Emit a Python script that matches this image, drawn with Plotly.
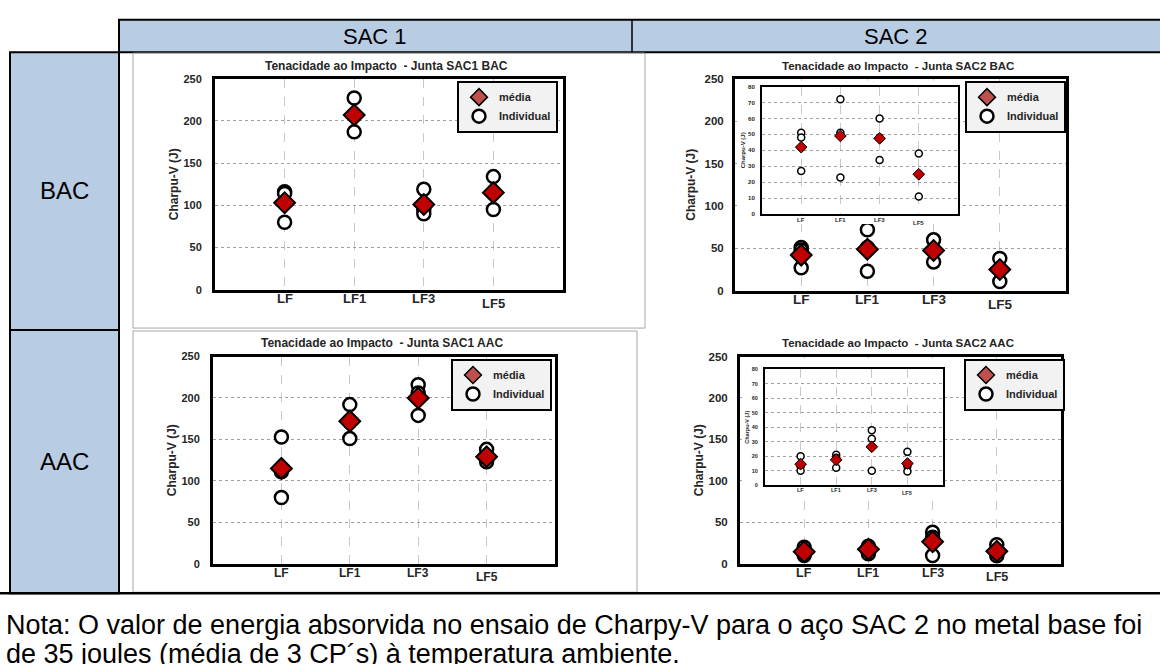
import plotly.graph_objects as go

W, H = 1160, 664
FONTE = "Liberation Sans, Arial, sans-serif"

categorias = ["LF", "LF1", "LF3", "LF5"]

# valores individuais (3 CPs por posicao) e media - Charpy-V (J)
sac1_bac_individual = [[116, 114, 80], [227, 207, 187], [119, 95, 90], [134, 115, 95]]
sac1_bac_media = [103, 207, 101, 115]

sac2_bac_individual = [[51, 48, 27], [72, 51, 23], [60, 48, 34], [38, 25, 11]]
sac2_bac_media = [42, 49, 47.5, 25]

sac1_aac_individual = [[153, 111, 80], [192, 171, 151], [216, 206, 179], [138, 126, 123]]
sac1_aac_media = [115, 172, 200, 129]

sac2_aac_individual = [[20, 13, 10], [21, 19, 12], [38, 32, 10], [23, 13, 9.5]]
sac2_aac_media = [14.5, 17.5, 26.5, 15]

colunas = ["SAC 1", "SAC 2"]
linhas = ["BAC", "AAC"]
titulos = ["Tenacidade ao Impacto  - Junta SAC1 BAC", "Tenacidade ao Impacto  - Junta SAC2 BAC",
           "Tenacidade ao Impacto  - Junta SAC1 AAC", "Tenacidade ao Impacto  - Junta SAC2 AAC"]
nota = ["Nota: O valor de energia absorvida no ensaio de Charpy-V para o aço SAC 2 no metal base foi",
        "de 35 joules (média de 3 CP´s) à temperatura ambiente."]


def px(x):
    return x / W


def py(y):
    return 1 - y / H


def add_series(fig, ind, med, n, small=False):
    s = "" if n == 1 else str(n)
    xs = [i + 1 for i, vals in enumerate(ind) for v in vals]
    ys = [v for vals in ind for v in vals]
    fig.add_trace(go.Scatter(x=xs, y=ys, mode="markers", xaxis="x" + s, yaxis="y" + s,
                             showlegend=False, hoverinfo="y",
                             marker=dict(symbol="circle", size=7 if small else 13, color="white",
                                         line=dict(color="black", width=1.5 if small else 2.5))))
    fig.add_trace(go.Scatter(x=list(range(1, len(med) + 1)), y=med, mode="markers",
                             xaxis="x" + s, yaxis="y" + s, showlegend=False, hoverinfo="y",
                             marker=dict(symbol="diamond", size=9 if small else 16, color="#C00000",
                                         line=dict(color="black", width=1 if small else 2))))


def add_legend(fig, n, leg):
    s = "" if n == 1 else str(n)
    # entradas so de legenda (cor mais clara como no original)
    fig.add_trace(go.Scatter(x=[None], y=[None], mode="markers", name="média", legend=leg,
                             xaxis="x" + s, yaxis="y" + s,
                             marker=dict(symbol="diamond", size=13, color="#C0504D",
                                         line=dict(color="black", width=1.5))))
    fig.add_trace(go.Scatter(x=[None], y=[None], mode="markers", name="Individual", legend=leg,
                             xaxis="x" + s, yaxis="y" + s,
                             marker=dict(symbol="circle", size=13, color="white",
                                         line=dict(color="black", width=2.5))))


def axes(n, x0, x1, y0, y1, ymax, dtick, fsize, lw, standoff, labstand, tsize):
    s = "" if n == 1 else str(n)
    xa = dict(domain=[px(x0), px(x1)], range=[0, 5], tickvals=[1, 2, 3, 4], showticklabels=False,
              showgrid=True, gridcolor="#C8C8C8", griddash="dash", gridwidth=1, ticks="",
              showline=True, linecolor="black", linewidth=lw, mirror=True, zeroline=False,
              anchor="y" + s, fixedrange=True)
    ya = dict(domain=[py(y1), py(y0)], range=[0, ymax], dtick=dtick, showgrid=True,
              gridcolor="#A0A0A0", griddash="dot", gridwidth=1, ticks="",
              showline=True, linecolor="black", linewidth=lw, mirror=True, zeroline=False,
              anchor="x" + s, fixedrange=True, ticklabelstandoff=labstand,
              tickfont=dict(family=FONTE, size=fsize, color="#262626", weight="bold"),
              title=dict(text="Charpu-V (J)", standoff=standoff,
                         font=dict(family=FONTE, size=tsize, color="#262626", weight="bold")))
    return xa, ya


def pad_axes(n, x0, x1, y0, y1):
    s = "" if n == 1 else str(n)
    xa = dict(domain=[px(x0), px(x1)], visible=False, range=[0, 1], anchor="y" + s)
    ya = dict(domain=[py(y1), py(y0)], visible=False, range=[0, 1], anchor="x" + s)
    return xa, ya


fig = go.Figure()

# graficos principais
add_series(fig, sac1_bac_individual, sac1_bac_media, 1)
add_series(fig, sac2_bac_individual, sac2_bac_media, 2)
add_series(fig, sac1_aac_individual, sac1_aac_media, 3)
add_series(fig, sac2_aac_individual, sac2_aac_media, 4)
add_legend(fig, 1, "legend")
add_legend(fig, 2, "legend2")
add_legend(fig, 3, "legend3")
add_legend(fig, 4, "legend4")

# fundo branco por tras dos graficos internos
for n in (5, 6):
    fig.add_trace(go.Scatter(x=[None], y=[None], xaxis="x%d" % n, yaxis="y%d" % n,
                             showlegend=False, hoverinfo="skip"))

# graficos internos (zoom 0-80 J)
add_series(fig, sac2_bac_individual, sac2_bac_media, 7, small=True)
add_series(fig, sac2_aac_individual, sac2_aac_media, 8, small=True)

lay = {}
lay["xaxis"], lay["yaxis"] = axes(1, 215, 563, 74, 289, 250, 50, 11, 3, 3, 8, 12)
lay["xaxis2"], lay["yaxis2"] = axes(2, 735, 1066, 74, 290, 250, 50, 11.5, 3, 7, 6, 12)
lay["xaxis3"], lay["yaxis3"] = axes(3, 213, 555, 357, 568, 250, 50, 11, 3, 3, 8, 12)
lay["xaxis4"], lay["yaxis4"] = axes(4, 740, 1061, 357, 568, 250, 50, 11.5, 3, 3, 7, 12)
lay["xaxis5"], lay["yaxis5"] = pad_axes(5, 737, 958, 76, 222)
lay["xaxis6"], lay["yaxis6"] = pad_axes(6, 742, 943, 359, 495)
lay["xaxis7"], lay["yaxis7"] = axes(7, 762, 958, 82, 212, 80, 10, 6, 2, 2, 4, 6)
lay["xaxis8"], lay["yaxis8"] = axes(8, 765, 943, 370, 488, 80, 10, 5.5, 2, 2, 4, 5.5)

legenda = dict(xanchor="left", yanchor="top", bgcolor="#F2F2F2", bordercolor="black",
               borderwidth=2, itemwidth=30, tracegroupgap=0,
               font=dict(family=FONTE, size=11, color="#262626", weight="bold"))
lay["legend"] = dict(legenda, x=px(457), y=py(76))
lay["legend2"] = dict(legenda, x=px(965), y=py(76))
lay["legend3"] = dict(legenda, x=px(451), y=py(359))
lay["legend4"] = dict(legenda, x=px(964), y=py(359))

anots = []


def texto(x, y, t, size, bold=False, xanchor="center", xref="paper", color="#262626"):
    anots.append(dict(x=x, y=y, xref=xref, yref="paper", text=t, showarrow=False,
                      xanchor=xanchor, yanchor="middle",
                      font=dict(family=FONTE, size=size, color=color,
                                weight="bold" if bold else "normal")))


# titulos dos graficos
texto(px(387), py(61), titulos[0], 12, True)
texto(px(898), py(61), titulos[1], 11.5, True)
texto(px(382), py(343), titulos[2], 12, True)
texto(px(898), py(343), titulos[3], 11.5, True)

# rotulos das categorias (LF5 um pouco abaixo, como no original)
for xr, yc, y5, sz in [("x", 298, 303, 13), ("x2", 299, 304, 13.5), ("x3", 577, 582, 12),
                       ("x4", 577, 582, 12.5), ("x7", 218, 221, 6), ("x8", 493, 496, 5.5)]:
    for i, c in enumerate(categorias):
        texto(i + 1, py(y5 if c == "LF5" else yc), c, sz, True, xref=xr)

# tabela
texto(px(375), py(31), colunas[0], 22, color="black")
texto(px(896), py(31), colunas[1], 22, color="black")
texto(px(64), py(188), linhas[0], 24, color="black")
texto(px(64), py(464), linhas[1], 24, color="black")
texto(px(4), py(630), nota[0], 27, xanchor="left", color="black")
texto(px(4), py(660), nota[1], 27, xanchor="left", color="black")

azul = "#B8CCE4"
shapes = [
    dict(type="rect", xref="paper", yref="paper", x0=px(119), x1=px(1161), y0=py(47), y1=py(14),
         fillcolor=azul, line=dict(color="black", width=2), layer="below"),
    dict(type="line", xref="paper", yref="paper", x0=px(632), x1=px(632), y0=py(47), y1=py(14),
         line=dict(color="black", width=1.5)),
    dict(type="rect", xref="paper", yref="paper", x0=px(10), x1=px(119), y0=py(330), y1=py(47),
         fillcolor=azul, line=dict(color="black", width=2), layer="below"),
    dict(type="rect", xref="paper", yref="paper", x0=px(10), x1=px(119), y0=py(598), y1=py(330),
         fillcolor=azul, line=dict(color="black", width=2), layer="below"),
    dict(type="line", xref="paper", yref="paper", x0=px(0), x1=px(1160), y0=py(598), y1=py(598),
         line=dict(color="black", width=2.5)),
    dict(type="rect", xref="paper", yref="paper", x0=px(133), x1=px(645), y0=py(328), y1=py(48),
         line=dict(color="#A6A6A6", width=1), layer="below"),
    dict(type="rect", xref="paper", yref="paper", x0=px(133), x1=px(637), y0=py(597), y1=py(331),
         line=dict(color="#A6A6A6", width=1), layer="below"),
]

fig.update_layout(
    width=W, height=H, margin=dict(l=0, r=0, t=0, b=0),
    paper_bgcolor="white", plot_bgcolor="white",
    font=dict(family=FONTE), annotations=anots, shapes=shapes,
    **lay
)

# sem margem da pagina, para a figura ocupar a janela toda
fig.write_html("out.html", config={"displayModeBar": False},
               post_script="document.body.style.margin='0px';")
